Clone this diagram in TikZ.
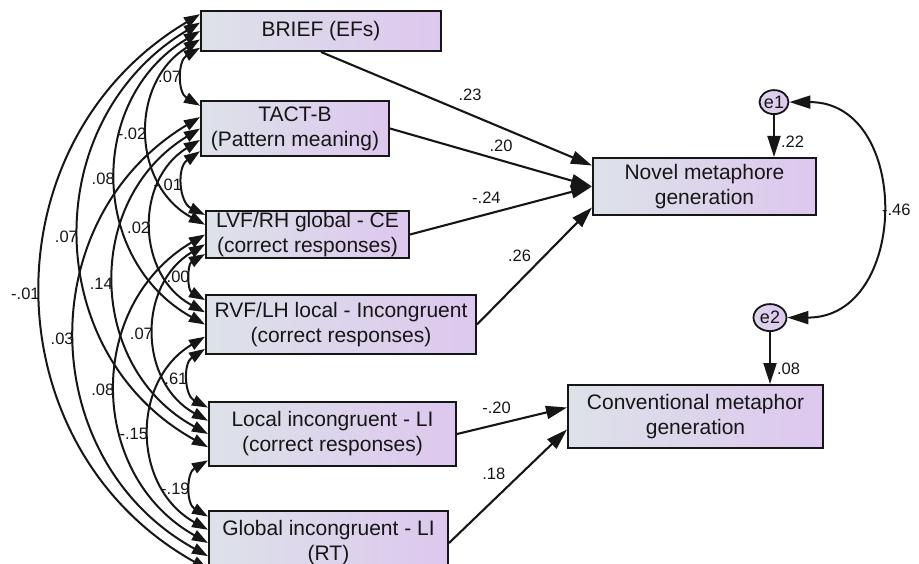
\documentclass[tikz,border=0pt]{standalone}
\usepackage{fontspec}
\setmainfont{Liberation Sans}
\usetikzlibrary{positioning,calc,arrows.meta,shapes.geometric}
\definecolor{boxL}{RGB}{221,226,233}
\definecolor{boxR}{RGB}{221,199,238}
\definecolor{ink}{RGB}{22,22,22}

\begin{document}
\begin{tikzpicture}[x=1pt,y=1pt,font=\fontsize{21}{25}\selectfont,
 var/.style={draw=ink,line width=2pt,left color=boxL,right color=boxR,align=center,inner sep=0pt,text=ink},
 err/.style={draw=ink,line width=1.8pt,ellipse,left color=boxL!50!boxR,right color=boxR,inner sep=0pt,minimum width=29pt,minimum height=24pt,text=ink,font=\fontsize{18}{20}\selectfont},
 reg/.style={ink,line width=2.1pt,-{Triangle[length=21pt,width=13pt]}},
 cov/.style={ink,line width=2pt,{Triangle[length=16pt,width=11pt]}-{Triangle[length=16pt,width=11pt]}},
 lab/.style={font=\fontsize{16.5}{18}\selectfont,text=ink,inner sep=1pt}]
 \useasboundingbox (0,0) rectangle (919,-564);
 % predictors
 \node[var,minimum width=240pt,minimum height=40pt,anchor=north west](brief) at (200,-10) {BRIEF (EFs)};
 \node[var,minimum width=188pt,minimum height=55pt,below=48pt of brief.south west,anchor=north west](tact) {TACT-B\\(Pattern meaning)};
 \node[var,minimum width=203pt,minimum height=47pt,below=53pt of tact.south west,anchor=north west,xshift=5pt](lvf) {LVF/RH global - CE\\(correct responses)};
 \node[var,minimum width=270pt,minimum height=59pt,below=35pt of lvf.south west,anchor=north west](rvf) {RVF/LH local - Incongruent\\(correct responses)};
 \node[var,minimum width=247pt,minimum height=64pt,below=46pt of rvf.south west,anchor=north west,xshift=3pt](local) {Local incongruent - LI\\(correct responses)};
 \node[var,minimum width=239pt,minimum height=64pt,below=43pt of local.south west,anchor=north west](global) {Global incongruent - LI\\(RT)};
 % outcomes
 \node[var,minimum width=223pt,minimum height=57pt,below right=105pt and 150pt of brief.south east](novel) {Novel metaphore\\generation};
 \node[var,minimum width=255pt,minimum height=63pt,below=168pt of novel.south west,anchor=north west,xshift=-25pt](conv) {Conventional metaphor\\generation};
 \node[err,above=42pt of novel.north east,xshift=-43pt](e1) {e1};
 \node[err,minimum width=33pt,minimum height=27pt,above=52pt of conv.north east,xshift=-54pt](e2) {e2};

 % ends of the covariance arcs on the left edges
 \foreach \n in {brief,tact,lvf,rvf,local,global}
  \foreach \s in {1,...,5}
   \coordinate (\n-\s) at ($(\n.north west)!{(\s-0.5)/5}!(\n.south west)$);
 \foreach \a/\sa/\b/\sb/\v in {brief/5/tact/1/.07, brief/4/lvf/2/-.02, brief/3/rvf/3/.08,
   brief/2/local/4/.07, brief/1/global/5/-.01, tact/5/lvf/1/-.01, tact/4/rvf/2/.02,
   tact/3/local/3/.14, tact/2/global/4/.03, lvf/5/rvf/1/.00, lvf/4/local/2/.07,
   lvf/3/global/3/.08, rvf/5/local/1/.61, rvf/4/global/2/-.15, local/5/global/1/-.19}
  \draw[cov](\a-\sa) to[bend right=60,looseness=1.15] node[lab,left]{\v} (\b-\sb);

 % paths
 \draw[reg](brief.south) -- ([yshift=21pt]novel.west) node[lab,pos=.55,above=12pt]{.23};
 \draw[reg](tact.east) -- (novel.west) node[lab,pos=.55,above=7pt]{.20};
 \draw[reg](lvf.east) -- (novel.west) node[lab,pos=.42,above=9pt]{-.24};
 \draw[reg](rvf.east) -- ([yshift=-21pt]novel.west) node[lab,pos=.37,above=17pt]{.26};
 \draw[reg](local.east) -- ([yshift=9pt]conv.west) node[lab,pos=.36,above=9pt]{-.20};
 \draw[reg](global.east) -- ([yshift=-13pt]conv.west) node[lab,pos=.38,above=18pt]{.18};
 \draw[reg](e1) -- (e1 |- novel.north) node[lab,pos=.64,right=5pt]{.22};
 \draw[reg](e2) -- (e2 |- conv.north) node[lab,pos=.7,right=5pt]{.08};
 \draw[cov,{Triangle[length=21pt,width=13pt]}-{Triangle[length=21pt,width=13pt]}](e1.east) to[out=0,in=0,looseness=1.45] node[lab,right=0pt]{-.46} (e2.east);
\end{tikzpicture}
\end{document}
